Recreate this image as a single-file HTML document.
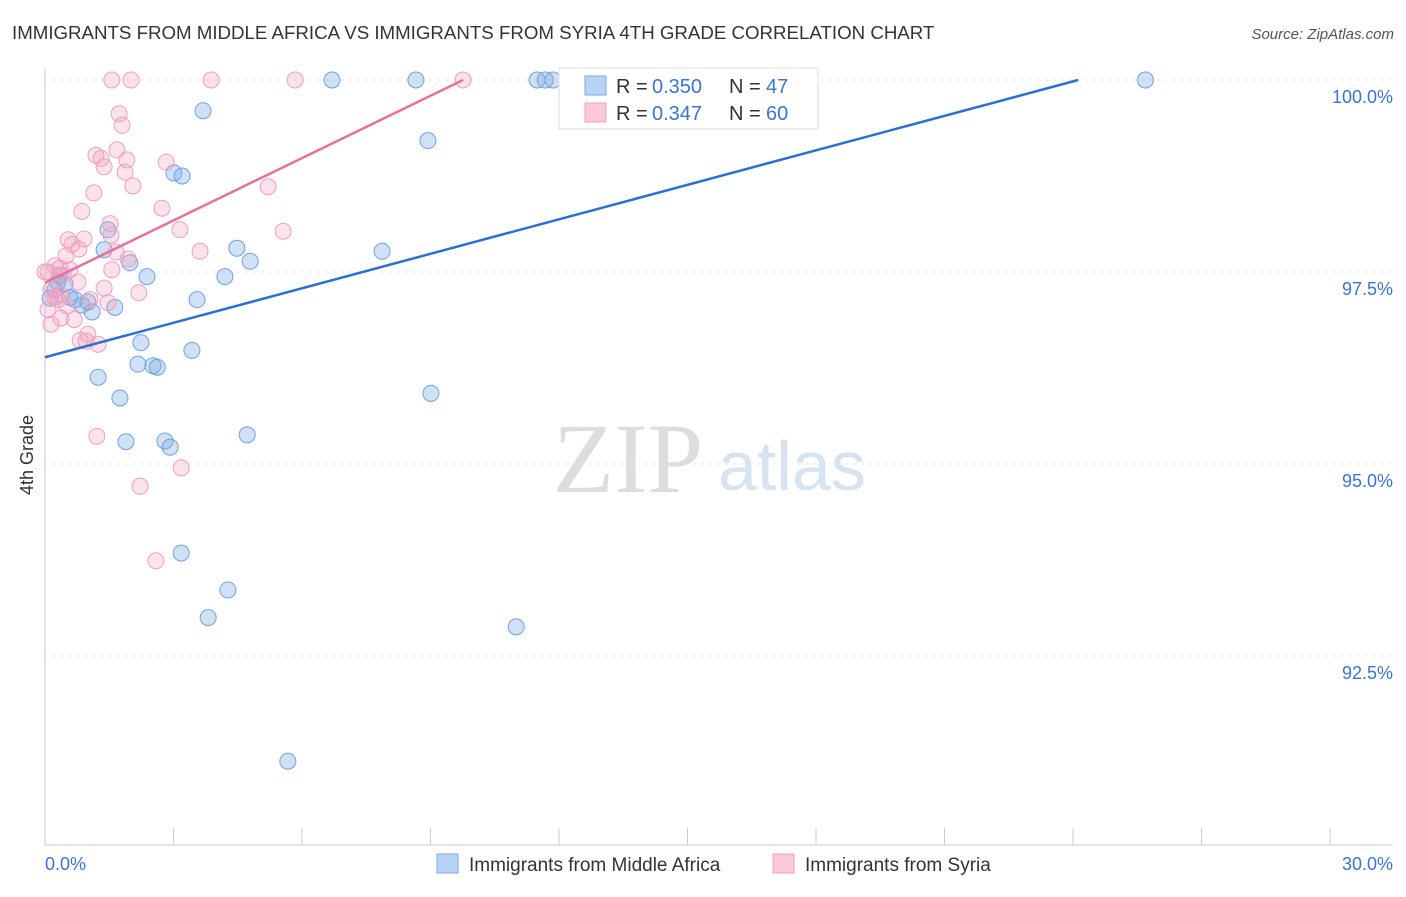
<!DOCTYPE html>
<html><head><meta charset="utf-8"><style>
body{margin:0;background:#fff;font-family:"Liberation Sans",sans-serif;}
</style></head><body>
<svg id="chart" width="1406" height="892" font-family="Liberation Sans, sans-serif">
<text x="12" y="39" font-size="18.7" fill="#333">IMMIGRANTS FROM MIDDLE AFRICA VS IMMIGRANTS FROM SYRIA 4TH GRADE CORRELATION CHART</text>
<text x="1394" y="39" font-size="15" fill="#555" text-anchor="end" font-style="italic">Source: ZipAtlas.com</text>
<text x="33" y="455" font-size="18" fill="#333" transform="rotate(-90 33 455)" text-anchor="middle">4th Grade</text>
<g><text x="553" y="492" font-size="100" fill="#ddd" style="font-family:'Liberation Serif',serif">ZIP</text><text x="718" y="490" font-size="70" fill="#d5e3f3">atlas</text></g>
<g id="grid"></g><g id="axes"></g><g id="pts"></g><g id="lines"></g>
<g>
<rect x="559" y="68" width="259" height="61" fill="#fff" stroke="#ddd"/>
<rect x="585" y="76" width="21" height="19" fill="#b8d3f5" stroke="#7aa8e0"/>
<rect x="585" y="103" width="21" height="19" fill="#fbc9d8" stroke="#f0a0bc"/>
<text x="616" y="93" font-size="20" fill="#333">R =</text>
<text x="652" y="93" font-size="20" fill="#3a74d0">0.350</text>
<text x="729" y="93" font-size="20" fill="#333">N =</text>
<text x="766" y="93" font-size="20" fill="#3a74d0">47</text>
<text x="616" y="120" font-size="20" fill="#333">R =</text>
<text x="652" y="120" font-size="20" fill="#3a74d0">0.347</text>
<text x="729" y="120" font-size="20" fill="#333">N =</text>
<text x="766" y="120" font-size="20" fill="#3a74d0">60</text>
</g>
<g>
<rect x="437" y="854" width="21" height="19" fill="#b8d3f5" stroke="#7aa8e0"/>
<text x="469" y="871" font-size="19" fill="#333">Immigrants from Middle Africa</text>
<rect x="773" y="854" width="21" height="19" fill="#fbc9d8" stroke="#f0a0bc"/>
<text x="805" y="871" font-size="19" fill="#333">Immigrants from Syria</text>
</g>
</svg>
<script>
const yTicks=[100,97.5,95,92.5];
const yTickLabels=["100.0%","97.5%","95.0%","92.5%"];
const xTickLabels=["0.0%","30.0%"];
const blueX=[6.70,8.66,11.49,11.68,11.86,25.69,3.69,8.94,3.01,3.20,1.47,4.48,1.38,7.87,4.79,1.98,2.38,4.20,0.35,0.47,0.23,0.58,0.12,3.55,1.00,0.86,1.63,1.10,2.24,3.43,2.17,2.52,2.62,1.24,9.01,1.75,1.89,2.80,2.92,4.72,3.18,4.27,3.81,11.00,5.67,0.30,0.70];
const blueY=[100,100,100,100,100,100,99.60,99.21,98.79,98.75,98.05,97.81,97.79,97.77,97.64,97.62,97.44,97.44,97.46,97.34,97.27,97.17,97.16,97.14,97.11,97.07,97.04,96.98,96.58,96.48,96.30,96.28,96.26,96.13,95.92,95.86,95.29,95.30,95.22,95.38,93.84,93.36,93.00,92.88,91.13,97.37,97.14];
const pinkX=[1.56,2.01,3.88,5.84,9.76,1.73,1.80,1.68,1.19,1.31,1.91,2.83,1.38,1.87,2.05,5.21,1.14,2.73,0.86,1.52,3.15,5.56,0.54,1.54,0.91,0.63,0.79,3.62,1.66,0.49,1.94,0.23,0.35,0.07,0.42,0.77,1.38,0.14,2.19,0.35,1.05,1.47,0.51,0.07,0.37,0.68,0.14,1.00,0.82,0.96,1.24,1.21,3.18,2.22,2.59,0,0.23,0.58,0.30,1.56];
const pinkY=[100,100,100,100,100,99.56,99.41,99.09,99.02,98.98,98.96,98.93,98.87,98.80,98.62,98.61,98.53,98.33,98.29,98.13,98.05,98.03,97.92,97.98,97.93,97.86,97.80,97.77,97.76,97.71,97.67,97.58,97.55,97.50,97.46,97.37,97.29,97.27,97.23,97.20,97.14,97.10,97.06,97.01,96.90,96.88,96.82,96.69,96.61,96.60,96.56,95.36,94.95,94.71,93.74,97.50,97.17,97.53,97.14,97.53];
const blueLineX=[0,24.12], blueLineY=[96.39,100];
const pinkLineX=[0,9.76], pinkLineY=[97.36,100];
const NS="http://www.w3.org/2000/svg";
function sx(v){return 45+v*(1330-45)/30;}
function sy(v){return 80+(100-v)*192/2.5;}
function mk(tag,attrs,parent){const e=document.createElementNS(NS,tag);for(const k in attrs)e.setAttribute(k,attrs[k]);document.getElementById(parent).appendChild(e);return e;}
yTicks.forEach((t,i)=>{
 const g=mk('line',{x1:45,x2:1393,y1:sy(t),y2:sy(t),stroke:'#e3e3e3','stroke-dasharray':'4,4'},'grid');
 
 
 const l=mk('text',{x:1393,y:sy(t)+23,'font-size':18,fill:'#3a74d0','text-anchor':'end'},'axes');
 l.textContent=yTickLabels[i];
 
 
});
const ya=mk('line',{x1:45,x2:45,y1:68,y2:845,stroke:'#ccc'},'axes');


const xa=mk('line',{x1:45,x2:1393,y1:845,y2:845,stroke:'#ccc'},'axes');


for(let i=0;i<=10;i++){
 const t=mk('line',{x1:sx(i*3),x2:sx(i*3),y1:828,y2:845,stroke:'#ccc'},'axes');
 
 
}
[[0,'start',45],[30,'end',1393]].forEach((a,i)=>{
 const l=mk('text',{x:a[2],y:870,'font-size':18,fill:'#3a74d0','text-anchor':a[1]},'axes');
 l.textContent=xTickLabels[i];
 
 
});
blueX.forEach((x,i)=>{
 const c=mk('circle',{cx:sx(x),cy:sy(blueY[i]),r:8,fill:'rgba(120,170,230,0.35)',stroke:'#6fa3e0','stroke-width':1},'pts');
 
 
});
pinkX.forEach((x,i)=>{
 const c=mk('circle',{cx:sx(x),cy:sy(pinkY[i]),r:8,fill:'rgba(245,160,190,0.3)',stroke:'#f0a0bc','stroke-width':1},'pts');
 
 
});
const bl=mk('line',{x1:sx(blueLineX[0]),y1:sy(blueLineY[0]),x2:sx(blueLineX[1]),y2:sy(blueLineY[1]),stroke:'#2d6fd2','stroke-width':2.5},'lines');


const pl=mk('line',{x1:sx(pinkLineX[0]),y1:sy(pinkLineY[0]),x2:sx(pinkLineX[1]),y2:sy(pinkLineY[1]),stroke:'#e8709a','stroke-width':2.5},'lines');


</script>
</body></html>
